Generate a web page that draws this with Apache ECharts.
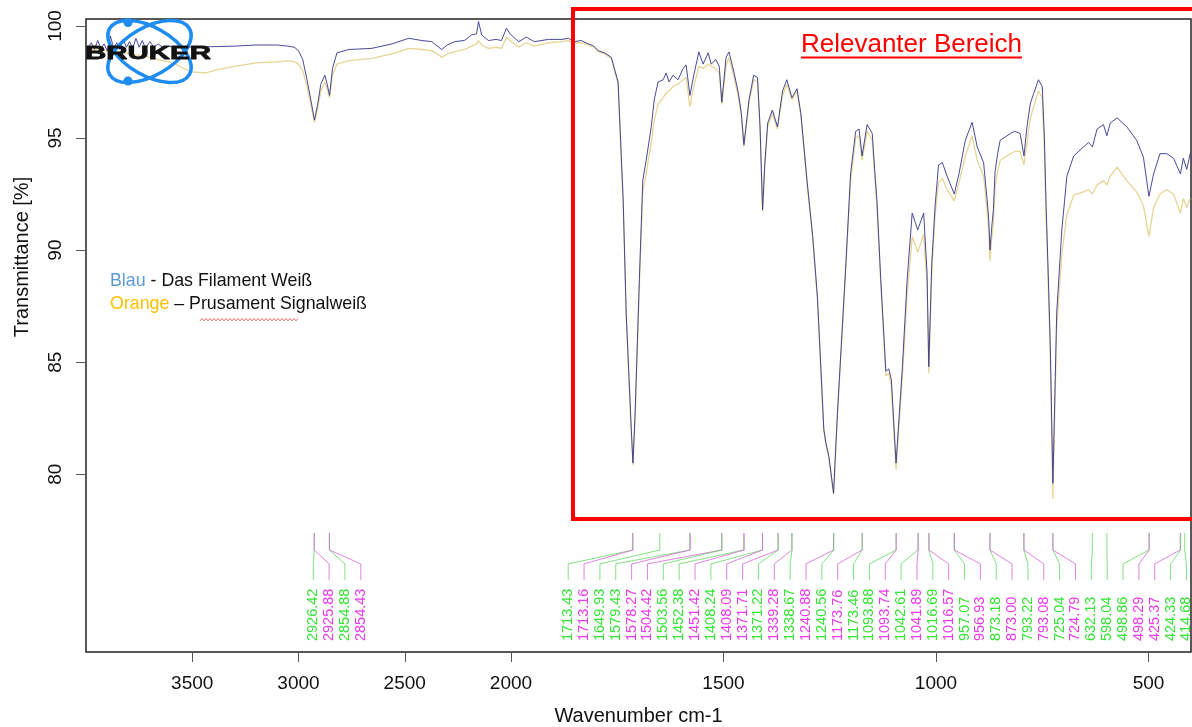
<!DOCTYPE html>
<html>
<head>
<meta charset="utf-8">
<script src="https://cdn.jsdelivr.net/npm/echarts@6/dist/echarts.min.js"></script>
<style>
html,body{margin:0;padding:0;background:#ffffff;}
#chart{width:1192px;height:727px;}
</style>
</head>
<body>
<div id="chart"></div>
<script>
// ---------------- DATA ----------------
const wavenumbers = [
  3990,3975,3960,3945,3930,3915,3900,3885,3870,3855,
  3840,3825,3810,3795,3780,3765,3750,3735,3720,3700,
  3680,3660,3640,3610,3580,3540,3500,3440,3380,3300,
  3200,3100,3050,3020,3000,2980,2960,2940,2925,2910,
  2895,2876,2865,2854,2840,2819,2763,2655,2560,2481,
  2420,2373,2340,2326,2300,2265,2220,2185,2162,2153,
  2138,2106,2070,2045,2021,2005,1982,1964,1945,1912,
  1880,1865,1851,1835,1818,1805,1795,1780,1764,1748,
  1736,1729,1717,1713,1708,1698,1690,1682,1670,1663,
  1654,1642,1635,1628,1619,1607,1595,1588,1579,1570,
  1558,1548,1536,1529,1518,1510,1504,1494,1487,1475,
  1465,1458,1452,1440,1429,1420,1414,1408,1403,1396,
  1385,1373,1361,1351,1339,1327,1318,1303,1290,1279,
  1264,1259,1252,1241,1232,1223,1212,1201,1189,1181,
  1174,1162,1150,1144,1139,1130,1118,1111,1105,1094,
  1079,1068,1056,1043,1029,1021,1017,1010,1002,994,
  985,974,957,946,931,915,903,888,880,876,
  873,869,865,861,855,849,825,815,802,793,
  786,778,759,750,745,741,736,731,725,716,
  704,692,676,653,641,632,621,606,598,590,
  574,551,528,512,499,488,473,457,441,425,
  418,410,402
];
// "Das Filament Weiß" (blue)
const blueT = [
  99.05,99.25,98.95,99.35,99.0,99.2,98.9,99.55,99.0,99.25,
  98.95,99.4,99.05,99.3,99.0,99.45,99.05,99.35,99.0,99.3,
  99.05,99.2,99.05,99.1,99.05,99.08,99.05,99.07,99.08,99.1,
  99.15,99.15,99.1,99.05,98.9,98.5,97.6,96.6,95.8,96.5,
  97.4,97.8,97.4,96.9,98.1,98.8,98.95,99.0,99.2,99.45,
  99.35,99.3,99.05,98.95,99.15,99.3,99.35,99.6,99.65,100.2,
  99.6,99.35,99.4,99.35,99.9,99.65,99.3,99.5,99.3,99.4,
  99.4,99.45,99.3,99.35,99.2,99.1,98.9,98.8,98.6,97.5,
  92.2,87.2,82.0,80.5,82.7,88.7,93.1,94.0,95.5,96.7,
  97.5,97.6,97.9,97.5,97.8,97.6,98.1,98.26,96.9,97.8,
  98.84,98.3,98.8,98.3,98.5,98.2,96.6,98.6,98.84,97.9,
  97.0,96.1,94.7,96.7,97.8,97.7,95.5,91.8,93.8,95.67,
  96.25,95.5,97.1,97.6,96.8,97.2,96.1,93.0,90.6,87.9,
  82.0,81.4,80.8,79.15,82.7,85.7,89.4,93.4,95.3,95.4,
  94.2,95.6,95.2,93.5,92.2,88.7,84.6,84.7,84.2,80.5,
  84.8,88.66,91.65,90.9,91.65,88.97,84.8,89.4,92.0,93.8,
  93.9,93.3,92.5,93.4,94.9,95.7,94.6,93.9,92.3,91.4,
  90.0,91.0,91.8,93.5,94.3,94.9,95.2,95.3,95.2,94.2,
  95.5,96.55,97.6,97.3,95.0,92.0,89.0,85.7,79.6,87.2,
  90.9,93.3,94.2,94.6,94.8,94.6,95.4,95.6,95.1,95.67,
  95.9,95.5,94.9,94.15,92.4,93.4,94.3,94.3,94.1,93.4,
  94.1,93.6,94.3
];
// "Prusament Signalweiß" (orange)
const orangeT = [
  98.95,99.0,98.9,99.0,98.9,98.95,98.85,98.9,98.85,98.85,
  98.8,98.8,98.8,98.75,98.75,98.7,98.7,98.7,98.65,98.6,
  98.55,98.5,98.45,98.4,98.3,98.1,97.95,97.9,98.05,98.2,
  98.35,98.4,98.45,98.4,98.3,98.0,97.3,96.4,95.7,96.3,
  97.1,97.5,97.2,96.8,97.8,98.3,98.45,98.55,98.75,99.0,
  98.95,98.9,98.7,98.6,98.75,98.85,98.95,99.1,99.2,99.35,
  99.15,99.0,99.05,99.0,99.5,99.35,99.05,99.25,99.1,99.25,
  99.3,99.35,99.25,99.25,99.15,99.05,98.85,98.75,98.55,97.4,
  92.1,87.1,81.9,80.4,82.5,88.4,92.6,93.4,94.8,95.8,
  96.5,96.8,97.0,97.1,97.3,97.4,97.6,97.7,96.4,97.3,
  98.2,98.1,98.3,98.2,98.1,97.9,96.5,98.2,98.6,97.7,
  96.8,96.0,94.6,96.6,97.6,97.5,95.4,91.7,93.7,95.5,
  96.1,95.4,96.9,97.4,96.7,97.1,96.0,92.9,90.5,87.8,
  82.0,81.3,80.7,79.1,82.6,85.6,89.3,93.1,95.0,95.1,
  94.0,95.3,94.9,93.3,92.0,88.5,84.4,84.5,83.9,80.2,
  84.4,88.0,90.6,89.9,90.7,88.5,84.5,89.0,91.6,93.0,
  93.2,92.7,92.2,93.0,94.2,95.1,94.0,93.3,91.8,90.9,
  89.5,90.5,91.2,92.8,93.5,94.0,94.3,94.4,94.4,93.8,
  94.8,95.9,97.1,96.8,94.5,91.5,88.5,85.2,78.9,86.5,
  89.8,91.6,92.45,92.6,92.7,92.5,92.9,93.1,92.9,93.3,
  93.7,93.1,92.6,92.0,90.6,91.9,92.5,92.7,92.5,91.65,
  92.3,91.9,92.3
];
const xTickValues = [3500,3000,2500,2000,1500,1000,500];
const yTickValues = [80,85,90,95,100];

const peaksLeft = [2926.42,2925.88,2854.88,2854.43];
const peaksLeftGroup = ['g','m','g','m'];
const peaksRight = [1713.43,1713.16,1649.93,1579.43,1578.27,1504.42,1503.56,1452.38,1451.42,1408.24,
  1408.09,1371.71,1371.22,1339.28,1338.67,1240.88,1240.56,1173.76,1173.46,1093.88,
  1093.74,1042.61,1041.89,1016.69,1016.57,957.07,956.93,873.18,873.00,793.22,
  793.08,725.04,724.79,632.13,598.04,498.86,498.29,425.37,424.33,414.68];
const peaksRightGroup = ['g','m','g','g','m','m','g','g','m','g',
  'm','m','g','m','g','m','g','m','g','g',
  'm','g','m','g','m','g','m','g','m','g',
  'm','g','m','g','g','g','m','m','g','g'];

// ---------------- LAYOUT / STYLE CONSTANTS ----------------
const FONT = '"Liberation Sans", Arial, Helvetica, sans-serif';
const BLUE_LINE = '#36368f';
const ORANGE_LINE = '#e6d596';
const GREEN_TXT = '#36e336';
const MAGENTA_TXT = '#ea3bea';
const GREEN_LEAD = 'rgba(90,215,90,0.75)';
const MAGENTA_LEAD = 'rgba(215,90,215,0.75)';
const LOGO_BLUE = '#1e8cf0';
// axis scale: above 2000 cm-1 the axis is compressed by a factor of 2 (Bruker style)
function toU(w){ return w > 2000 ? 2000 + (w - 2000) / 2 : w; }
function fromU(u){ return u > 2000 ? 2000 + (u - 2000) * 2 : u; }
// leader-line levels (in %T axis units) and label slots (axis units)
const LEAD_TOP = 77.38, LEAD_KNEE1 = 76.62, LEAD_KNEE2 = 76.0, LEAD_END = 75.28, LABEL_BASE = 72.56;
const LEFT_SLOT_START = 2465.3, RIGHT_SLOT_START = 1865.4, SLOT_STEP = 37.3;

const peakItems = [];
peaksLeft.forEach((p, i) => peakItems.push([toU(p), LEFT_SLOT_START - i * SLOT_STEP, peaksLeftGroup[i] === 'g' ? 0 : 1, p]));
peaksRight.forEach((p, i) => peakItems.push([toU(p), RIGHT_SLOT_START - i * SLOT_STEP, peaksRightGroup[i] === 'g' ? 0 : 1, p]));

const blueData = wavenumbers.map((w, i) => [toU(w), blueT[i]]);
const orangeData = wavenumbers.map((w, i) => [toU(w), orangeT[i]]);

function renderPeak(params, api){
  const pu = api.value(0), su = api.value(1), grp = api.value(2), val = api.value(3);
  const p1 = api.coord([pu, LEAD_TOP]);
  const p2 = api.coord([pu, LEAD_KNEE1]);
  const p3 = api.coord([su, LEAD_KNEE2]);
  const p4 = api.coord([su, LEAD_END]);
  const pt = api.coord([su, LABEL_BASE]);
  return {
    type: 'group',
    children: [
      { type: 'polyline', shape: { points: [p1, p2, p3, p4] },
        style: { stroke: grp === 0 ? GREEN_LEAD : MAGENTA_LEAD, lineWidth: 1, fill: null }, silent: true },
      { type: 'text', x: pt[0], y: pt[1], rotation: Math.PI / 2,
        style: { text: Number(val).toFixed(2), fill: grp === 0 ? GREEN_TXT : MAGENTA_TXT,
                 font: '14.5px ' + FONT, align: 'left', verticalAlign: 'middle' } }
    ]
  };
}

// squiggle under "Prusament" (spell-check decoration)
const squiggle = [];
for (let x = 200, k = 0; x <= 299; x += 2, k++) squiggle.push([x, k % 2 ? 318.5 : 320.8]);

const chart = echarts.init(document.getElementById('chart'), null, { renderer: 'canvas' });
chart.setOption({
  animation: false,
  backgroundColor: '#ffffff',
  grid: { left: 86, right: 1, top: 19, bottom: 75, show: true, borderColor: '#222', borderWidth: 1.5,
          backgroundColor: 'transparent', containLabel: false, outerBoundsMode: 'none' },
  xAxis: {
    type: 'value', min: 400, max: 3000, inverse: true,
    axisLine: { show: false }, splitLine: { show: false },
    axisTick: { show: true, length: 10, customValues: xTickValues.map(toU), lineStyle: { color: '#555', width: 1 } },
    axisLabel: { customValues: xTickValues.map(toU), formatter: v => String(Math.round(fromU(v))),
                 margin: 22, fontSize: 19, color: '#111', fontFamily: FONT },
    name: 'Wavenumber cm-1', nameLocation: 'middle', nameGap: 54,
    nameTextStyle: { fontSize: 20, color: '#111', fontFamily: FONT }
  },
  yAxis: {
    type: 'value', min: 72.07, max: 100.31,
    axisLine: { show: false }, splitLine: { show: false },
    axisTick: { show: true, length: 10, customValues: yTickValues, lineStyle: { color: '#555', width: 1 } },
    axisLabel: { customValues: yTickValues, rotate: 90, margin: 21, fontSize: 19, color: '#111', fontFamily: FONT }
  },
  series: [
    { name: 'Prusament Signalweiß', type: 'line', data: orangeData, showSymbol: false, symbol: 'none',
      lineStyle: { color: ORANGE_LINE, width: 1.3 }, z: 2, silent: true },
    { name: 'Das Filament Weiß', type: 'line', data: blueData, showSymbol: false, symbol: 'none',
      lineStyle: { color: BLUE_LINE, width: 1, opacity: 0.9 }, z: 3, silent: true },
    { name: 'peaks', type: 'custom', data: peakItems, renderItem: renderPeak, clip: false, z: 4, silent: true }
  ],
  graphic: [
    // y axis title
    { type: 'text', x: 22, y: 257, rotation: Math.PI / 2, z: 10,
      style: { text: 'Transmittance [%]', font: '20px ' + FONT, fill: '#111', align: 'center', verticalAlign: 'middle' } },
    // relevant area box
    { type: 'rect', z: 10, shape: { x: 573, y: 9, width: 660, height: 510 },
      style: { fill: null, stroke: '#ff0000', lineWidth: 4 } },
    { type: 'text', x: 911.5, y: 44.5, z: 10,
      style: { text: 'Relevanter Bereich', font: '26px ' + FONT, fill: '#ff0000', align: 'center', verticalAlign: 'middle' } },
    { type: 'line', z: 10, shape: { x1: 801, y1: 57.5, x2: 1022, y2: 57.5 }, style: { stroke: '#ff0000', lineWidth: 2 } },
    // legend text
    { type: 'text', x: 110, y: 281, z: 10,
      style: { text: '{b|Blau}{k| - Das Filament Weiß}', font: '17.8px ' + FONT, verticalAlign: 'middle', align: 'left',
               rich: { b: { fill: '#5b9bd5', font: '17.8px ' + FONT }, k: { fill: '#111', font: '17.8px ' + FONT } } } },
    { type: 'text', x: 110, y: 304.5, z: 10,
      style: { text: '{o|Orange}{k| – Prusament Signalweiß}', font: '17.8px ' + FONT, verticalAlign: 'middle', align: 'left',
               rich: { o: { fill: '#ffc000', font: '17.8px ' + FONT }, k: { fill: '#111', font: '17.8px ' + FONT } } } },
    { type: 'polyline', z: 10, shape: { points: squiggle }, style: { stroke: '#e04040', lineWidth: 0.8, fill: null } },
    // Bruker logo
    { type: 'ellipse', x: 149.5, y: 51.5, rotation: -0.524, z: 11, shape: { cx: 0, cy: 0, rx: 46, ry: 24 },
      style: { fill: null, stroke: LOGO_BLUE, lineWidth: 3.5 } },
    { type: 'ellipse', x: 149.5, y: 51.5, rotation: 0.524, z: 11, shape: { cx: 0, cy: 0, rx: 46, ry: 24 },
      style: { fill: null, stroke: LOGO_BLUE, lineWidth: 3.5 } },
    { type: 'circle', z: 11, shape: { cx: 128, cy: 22.5, r: 4.5 }, style: { fill: LOGO_BLUE } },
    { type: 'circle', z: 11, shape: { cx: 128, cy: 81, r: 4.5 }, style: { fill: LOGO_BLUE } },
    { type: 'text', x: 85, y: 53.5, scaleX: 1.55, z: 12,
      style: { text: 'BRUKER', font: 'bold 19px ' + FONT, fill: '#111', stroke: '#111', lineWidth: 0.8,
               align: 'left', verticalAlign: 'middle' } }
  ]
});
</script>
</body>
</html>
